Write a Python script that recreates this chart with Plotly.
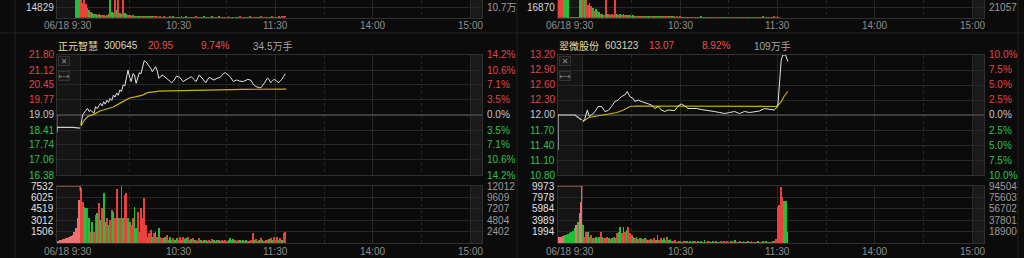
import plotly.graph_objects as go

W, H = 1024, 258
BG = "#0b0b0b"
GRID = "#272727"
FRAME = "#303030"
RED = "#e8413e"
GREEN = "#22c03a"
PRE_RED = "#ef7070"
LINE_W = "#e4e4e4"
AVG = "#c8b400"
FONT = "Liberation Sans, Arial, Noto Sans CJK SC, sans-serif"

# ---------------- shared time axis ----------------
TIME_TICKS = [0, 60, 120, 180, 240]
HALF_TICKS = [30, 90, 150, 210]
TIME_LABELS = ["06/18 9:30", "10:30", "11:30", "14:00", "15:00"]

# ---------------- 正元智慧 300645 ----------------
L_HEADER = ["正元智慧", "300645", "20.95", "9.74%", "34.5万手"]
L_PRICE_TICKS = [21.80, 21.12, 20.45, 19.77, 19.09, 18.41, 17.74, 17.06, 16.38]
L_PCT_TICKS = ["14.2%", "10.6%", "7.1%", "3.5%", "0.0%", "3.5%", "7.1%", "10.6%", "14.2%"]
L_PRE_CLOSE = 19.09
L_VOL_TICKS = [7532, 6025, 4519, 3012, 1506]
L_AMT_TICKS = ["12012", "9609", "7207", "4804", "2402"]
L_TOP_GRID = 14829
L_TOP_RIGHT = "10.7万"

L_PRE_MIN = [-15, -15, -14.6, -5, -0.5]
L_PRE_PRICE = [19.09, 18.28, 18.53, 18.53, 18.50]

L_MIN = [0, 1, 3, 4, 5, 6, 8, 9, 10, 12, 13, 14, 15, 16, 17, 18, 19, 20, 21, 22, 23, 24, 25, 26, 27,
         28, 29, 30, 31, 32, 33, 34, 35, 36, 37, 38, 39, 40, 41, 42, 43, 44, 45, 46, 47, 48, 49, 50,
         51, 52, 54, 56, 57, 59, 60, 61, 63, 65, 68, 70, 71, 73, 75, 77, 79, 81, 82, 84, 86, 88, 89,
         90, 92, 94, 96, 98, 100, 103, 105, 106, 108, 110, 111, 113, 115, 116, 117, 118, 119, 120,
         121, 122, 123, 124, 125, 126]
L_PRICE = [18.64, 19.09, 19.30, 19.39, 19.25, 19.30, 19.17, 19.47, 19.38, 19.62, 19.50, 19.69, 19.58,
           19.76, 19.66, 19.84, 19.75, 19.99, 19.90, 20.08, 19.98, 20.22, 20.15, 20.45, 20.40, 20.85,
           21.12, 20.80, 20.60, 20.95, 20.90, 20.52, 20.75, 21.00, 20.95, 21.30, 21.54, 21.50, 21.40,
           21.35, 21.20, 21.05, 21.15, 21.27, 21.10, 20.75, 20.80, 20.90, 20.85, 20.80, 20.67, 20.55,
           20.62, 20.85, 20.80, 20.79, 20.60, 20.70, 20.82, 20.68, 20.60, 20.90, 20.70, 20.55, 20.79,
           20.72, 20.67, 20.75, 20.80, 20.97, 21.00, 20.95, 20.82, 20.60, 20.67, 20.62, 20.60, 20.70,
           20.65, 20.50, 20.37, 20.33, 20.32, 20.52, 20.75, 20.70, 20.55, 20.62, 20.70, 20.66, 20.60,
           20.55, 20.64, 20.70, 20.82, 20.95]
L_AVG_MIN = [0, 2, 4.5, 8, 11.7, 16, 19.9, 25, 30, 34, 38, 41, 44, 48.6, 55, 61, 75, 87, 100, 126.6]
L_AVG = [18.59, 18.85, 19.04, 19.12, 19.27, 19.36, 19.45, 19.66, 19.86, 19.92, 19.99, 20.10, 20.13,
         20.17, 20.18, 20.19, 20.21, 20.25, 20.25, 20.26]

L_AUC_MIN = [-15, -0.5, -0.5]
L_AUC_VOL = [7532, 7532, 6875]
L_PRE_VOL = [315, 350, 402, 460, 533, 600, 665, 750, 840, 960, 1102, 1540, 1977, 3290, 5696]
L_VOL = [7312, 5475, 4818, 4600, 4600, 3290, 1540, 2852, 1540, 3727,
         3946, 5256, 3071, 4600, 6570, 2852, 3290, 2415, 3071, 4381,
         4162, 3290, 7137, 3290, 3377, 7531, 3290, 6351, 6570, 3290,
         2852, 2415, 3290, 4818, 1977, 4162, 1540, 4600, 3290, 6001,
         2415, 884, 1322, 1759, 884, 1322, 1540, 884, 1977, 884,
         665, 665, 884, 1102, 446, 884, 446, 665, 402, 665,
         490, 884, 402, 884, 577, 665, 884, 446, 577, 665,
         402, 490, 358, 665, 402, 358, 490, 402, 315, 446,
         358, 577, 402, 315, 446, 490, 358, 446, 358, 402,
         315, 446, 665, 490, 577, 402, 358, 446, 402, 315,
         402, 358, 446, 315, 358, 402, 1322, 402, 577, 358,
         490, 665, 402, 358, 446, 402, 577, 665, 402, 884,
         446, 796, 402, 665, 446, 1322, 1453]
L_DIR = [1, 1, -1, -1, 1, -1, 1, -1, 1, 1,
         -1, 1, -1, 1, -1, -1, 1, -1, 1, 1,
         -1, 1, 1, -1, 1, 1, -1, 1, 1, -1,
         -1, 1, 1, -1, -1, 1, 1, 1, 1, 1,
         1, -1, 1, 1, -1, 1, -1, 1, -1, 1,
         1, -1, -1, 1, -1, -1, 1, 1, -1, -1,
         1, 1, -1, 1, -1, -1, 1, 1, -1, 1,
         -1, 1, -1, 1, -1, 1, -1, 1, -1, 1,
         -1, 1, -1, 1, -1, 1, -1, 1, -1, 1,
         1, -1, -1, 1, -1, 1, -1, 1, -1, 1,
         -1, 1, -1, 1, -1, 1, 1, -1, 1, 1,
         -1, 1, -1, 1, -1, 1, -1, 1, -1, 1,
         1, 1, -1, 1, -1, 1, 1]

L_TOP_START = -3
L_TOP_VOL = [40000, 40000, 40000, 40000, 22300, 26000, 20000, 14350, 11640, 9000,
             6378, 5500, 5000, 4500, 5200, 3667, 4200, 3667, 3000, 3667,
             5000, 40000, 9000, 7000, 40000, 11640, 40000, 6378, 5000, 40000,
             6378, 5000, 4000, 3667, 3000, 3667, 2800, 3200, 2500, 2900,
             2400, 2700, 2200, 2600, 2000, 2300, 1800, 2100, 1500, 1300,
             1200, 900, 1100, 800, 1300, 700, 1000, 900, 1200, 800,
             1100, 700, 900, 1000, 800, 1200, 700, 900, 1100, 800,
             1000, 700, 900, 800, 1200, 700, 1000, 900, 800, 1100,
             700, 900, 1000, 800, 1300, 700, 900, 800, 1100, 900,
             700, 1000, 800, 900, 1200, 700, 900, 800, 1000, 700,
             900, 1100, 800, 700, 1000, 900, 800, 1200, 700, 900,
             800, 1000, 700, 900, 1100, 800, 900, 700, 1000, 800,
             900, 1200, 700, 1000, 800, 1300, 900, 1100, 1400, 1200]
L_TOP_DIR = [-1, -1, -1, 1, 1, 1, 1, 1, -1, 1,
             -1, -1, 1, -1, 1, -1, 1, -1, 1, -1,
             1, -1, -1, -1, 1, -1, 1, -1, -1, 1,
             -1, -1, 1, -1, 1, -1, 1, -1, 1, -1,
             1, -1, 1, -1, 1, -1, 1, -1, 1, -1,
             1, -1, 1, -1, 1, -1, 1, -1, 1, -1,
             -1, 1, -1, 1, -1, 1, -1, 1, -1, 1,
             1, -1, 1, -1, 1, -1, 1, -1, 1, -1,
             -1, 1, -1, 1, -1, 1, -1, 1, -1, 1,
             1, -1, 1, -1, 1, -1, 1, -1, 1, -1,
             -1, 1, -1, 1, -1, 1, -1, 1, -1, 1,
             1, -1, 1, -1, 1, -1, 1, -1, 1, -1,
             -1, 1, -1, 1, -1, 1, -1, 1, 1, 1]

# ---------------- 翠微股份 603123 ----------------
R_HEADER = ["翠微股份", "603123", "13.07", "8.92%", "109万手"]
R_PRICE_TICKS = [13.20, 12.90, 12.60, 12.30, 12.00, 11.70, 11.40, 11.10, 10.80]
R_PCT_TICKS = ["10.0%", "7.5%", "5.0%", "2.5%", "0.0%", "2.5%", "5.0%", "7.5%", "10.0%"]
R_PRE_CLOSE = 12.00
R_VOL_TICKS = [9973, 7978, 5984, 3989, 1994]
R_AMT_TICKS = ["94504", "75603", "56702", "37801", "18900"]
R_TOP_GRID = 16870
R_TOP_RIGHT = "21057"

R_PRE_MIN = [-15.4, -15.4, -15, -5, -0.8]
R_PRE_PRICE = [11.30, 12.00, 12.00, 12.00, 11.90]

R_MIN = [0, 1.2, 2.7, 3.9, 5.3, 7.4, 9.4, 11.5, 13.5, 15.6, 17.6, 19.7, 21.7, 23.8, 25.8, 27.3,
         28.9, 31, 32, 34, 36, 39.2, 42.3, 44.3, 46.4, 48.4, 50.5, 52.5, 54.6, 56.6, 58.7, 60.7,
         62.8, 64.8, 66.9, 70, 73, 76, 78, 81, 84.3, 87.4, 90.5, 93.5, 96.6, 99.7, 102.8, 105.8,
         108.9, 112, 115, 118, 120.2, 121.2, 122.3, 123.3, 125, 126.4]
R_PRICE = [11.87, 11.93, 12.10, 11.97, 12.00, 12.07, 12.17, 12.17, 12.07, 12.09, 12.17, 12.27,
           12.30, 12.37, 12.40, 12.47, 12.37, 12.33, 12.27, 12.30, 12.27, 12.23, 12.20, 12.13,
           12.17, 12.10, 12.07, 12.10, 12.10, 12.09, 12.18, 12.22, 12.18, 12.13, 12.13, 12.13,
           12.11, 12.10, 12.08, 12.07, 12.05, 12.03, 12.05, 12.07, 12.03, 12.07, 12.05, 12.07,
           12.08, 12.13, 12.11, 12.10, 12.17, 12.70, 13.10, 13.20, 13.20, 13.07]
R_AVG_MIN = [0, 3.5, 8.7, 16.9, 21, 25, 29, 33, 77, 78, 119.5, 122, 124, 126.4]
R_AVG = [11.87, 11.95, 11.98, 12.02, 12.05, 12.10, 12.17, 12.18, 12.18, 12.17, 12.17, 12.25,
         12.37, 12.47]

R_AUC_MIN = [-15.4, -0.8, -0.8]
R_AUC_VOL = [9973, 9973, 7243]
R_PRE_VOL = [1164, 1164, 1164, 1337, 1453, 1453, 1569, 1743, 1916, 2148, 2611, 3190, 3769, 5216, 7243]
R_PRE_DIR = [1, 1, 1, 1, -1, -1, -1, -1, -1, -1, -1, 1, -1, 1, 1]
R_VOL = [3190, 1164, 2032, 2032, 1164, 1453, 874, 874, 1164, 874,
         1164, 2032, 1164, 874, 874, 1164, 874, 758, 874, 1164,
         874, 1743, 2032, 2900, 1743, 2900, 2032, 2322, 2900, 1743,
         1453, 1164, 874, 1164, 758, 874, 874, 758, 874, 758,
         584, 642, 758, 526, 1006, 584, 1453, 526, 874, 526,
         1006, 526, 1164, 526, 758, 410, 350, 520, 300, 460,
         380, 290, 440, 350, 500, 310, 420, 280, 360, 450,
         300, 380, 260, 420, 330, 600, 290, 350, 410, 270,
         360, 300, 440, 280, 330, 390, 260, 350, 300, 420,
         280, 340, 380, 260, 560, 310, 290, 350, 270, 400,
         300, 260, 340, 290, 380, 250, 320, 280, 360, 300,
         270, 340, 300, 390, 280, 330, 260, 360, 420, 700,
         6375, 6665, 9855, 8117, 7364, 7364, 2040]
R_DIR = [-1, 1, 1, -1, 1, 1, -1, 1, -1, 1,
         -1, 1, -1, 1, -1, 1, -1, 1, -1, 1,
         -1, 1, -1, -1, 1, -1, 1, -1, 1, 1,
         1, -1, 1, -1, 1, 1, -1, 1, -1, 1,
         -1, 1, -1, 1, 1, -1, -1, 1, 1, -1,
         -1, 1, 1, -1, -1, 1, -1, 1, -1, 1,
         -1, 1, -1, 1, -1, 1, -1, 1, -1, 1,
         1, -1, 1, -1, 1, -1, 1, -1, 1, -1,
         -1, 1, -1, 1, -1, 1, -1, 1, -1, 1,
         1, -1, 1, -1, -1, 1, -1, 1, -1, 1,
         -1, 1, -1, 1, -1, 1, -1, 1, -1, 1,
         1, -1, 1, -1, 1, -1, 1, -1, 1, 1,
         1, 1, 1, 1, -1, -1, -1]

R_TOP_START = -15
R_TOP_VOL = [40000, 40000, 40000, 40000, 40000, 40000, 40000, 300, 300, 300,
             300, 300, 300, 40000, 40000, 40000, 40000, 40000, 22000, 24000,
             20000, 16000, 11000, 14000, 12000, 10000, 7000, 6000, 5000, 40000,
             6000, 5500, 4500, 6000, 5000, 40000, 6500, 5000, 6000, 4500,
             5500, 4000, 5000, 4000, 4500, 3500, 4000, 3000, 2500, 3200,
             2200, 2800, 2000, 2600, 2100, 2400, 1900, 2200, 1800, 2000,
             1700, 2100, 1600, 1900, 1500, 1800, 1400, 1700, 1300, 1600,
             1200, 1500, 1100, 1400, 1000, 1300, 900, 700, 1000, 600,
             800, 1100, 700, 900, 600, 1000, 800, 700, 1200, 600,
             900, 700, 1000, 800, 600, 900, 1100, 700, 800, 600,
             1000, 700, 900, 800, 600, 1100, 700, 900, 800, 1000,
             600, 800, 700, 900, 1000, 700, 800, 600, 900, 700,
             800, 1000, 700, 900, 600, 800, 1200, 900, 1000, 800,
             1100, 900, 1000, 1200, 800, 1300, 1000]
R_TOP_DIR = [1, 1, 1, -1, -1, -1, -1, 1, -1, 1,
             -1, 1, -1, -1, -1, 1, -1, 1, 1, -1,
             1, -1, 1, -1, 1, -1, 1, -1, 1, 1,
             -1, 1, -1, 1, -1, 1, -1, 1, -1, 1,
             -1, 1, -1, 1, -1, 1, -1, 1, -1, 1,
             -1, 1, -1, 1, -1, 1, -1, 1, -1, 1,
             -1, 1, -1, 1, -1, 1, -1, 1, -1, 1,
             -1, 1, -1, 1, -1, 1, -1, 1, -1, 1,
             -1, 1, -1, 1, -1, 1, -1, 1, -1, 1,
             -1, 1, -1, 1, -1, 1, -1, 1, -1, 1,
             -1, 1, -1, 1, -1, 1, -1, 1, -1, 1,
             -1, 1, -1, 1, -1, 1, -1, 1, -1, 1,
             -1, 1, -1, 1, -1, 1, -1, 1, -1, 1,
             1, -1, 1, 1, -1, 1, 1]

# ---------------- layout geometry (pixels) ----------------
PRICE_Y = (55, 175)
VOL_Y = (186, 243.4)
TOP_Y = (0, 17.7)
HEADER_Y = 46
TIME_Y_BOTTOM = 251
TIME_Y_TOP = 26

fig = go.Figure()
layout = {}
annotations = []
shapes = []


def py(p):
    return 1 - p / H


def pxx(p):
    return p / W


def ann(text, x, y, xanchor="left", color="#cccccc", xref="paper", yref="paper", size=10, xshift=0):
    annotations.append(dict(text=text, x=x, y=y, xref=xref, yref=yref, xanchor=xanchor,
                            yanchor="middle", showarrow=False, xshift=xshift, borderpad=0,
                            font=dict(family=FONT, size=size, color=color)))


def colors(dirs, up=RED, down=GREEN):
    return [up if d > 0 else down for d in dirs]


def axis_names(n):
    return ("x" if n == 1 else f"x{n}", "y" if n == 1 else f"y{n}",
            "xaxis" if n == 1 else f"xaxis{n}", "yaxis" if n == 1 else f"yaxis{n}")


def make_axes(n, bx, ypix, xr, yr, yticks, top=False):
    xid, yid, xk, yk = axis_names(n)
    layout[xk] = dict(domain=[pxx(bx[0]), pxx(bx[1])], range=xr, anchor=yid,
                      tickvals=TIME_TICKS, showticklabels=False, ticks="",
                      showgrid=True, gridcolor=GRID, gridwidth=1, zeroline=False,
                      showline=True, mirror=not top, linecolor=FRAME, linewidth=1,
                      minor=dict(tickvals=HALF_TICKS, showgrid=True, gridcolor=GRID,
                                 griddash="dot", gridwidth=1, ticks=""),
                      fixedrange=True)
    layout[yk] = dict(domain=[py(ypix[1]), py(ypix[0])], range=yr, anchor=xid,
                      tickvals=yticks, showticklabels=False, ticks="",
                      showgrid=True, gridcolor=GRID, gridwidth=1, zeroline=False,
                      showline=True, mirror=True, linecolor=FRAME, linewidth=1,
                      fixedrange=True)
    # pre-market and post-market shaded zones
    for x0, x1, c in ((xr[0], 0, "#151515"), (240, xr[1], "#1a1a1a")):
        shapes.append(dict(type="rect", xref=xid, yref=f"{yid} domain", x0=x0, x1=x1, y0=0, y1=1,
                           fillcolor=c, line=dict(width=0), layer="below"))
    return xid, yid


def panel(nbase, bx, xr, header, price_ticks, pct_ticks, pre_close, vol_ticks, amt_ticks,
          top_grid, top_right, pre_min, pre_price, mins, price, avg_min, avg,
          auc_min, auc_vol, pre_vol, pre_dir, vol, vdir, top_start, top_vol, top_dir):
    pr = [price_ticks[-1], price_ticks[0]]
    xp, yp = make_axes(nbase, bx, PRICE_Y, xr, pr, price_ticks)
    xv, yv = make_axes(nbase + 1, bx, VOL_Y, xr, [0, vol_ticks[0]], vol_ticks)
    top_range = [0, top_grid * (TOP_Y[1] - TOP_Y[0]) / (TOP_Y[1] - 7.7)]
    xt, yt = make_axes(nbase + 2, bx, TOP_Y, xr, top_range, [top_grid], top=True)

    # previous-close reference line (drawn first, under the price lines)
    fig.add_trace(go.Scatter(x=xr, y=[pre_close, pre_close], xaxis=xp, yaxis=yp, mode="lines",
                             line=dict(color="#4a4a4a", width=1.6), hoverinfo="skip"))

    # price lines
    fig.add_trace(go.Scatter(x=pre_min, y=pre_price, xaxis=xp, yaxis=yp, mode="lines",
                             line=dict(color="#cfcfcf", width=1.2), hoverinfo="skip"))
    fig.add_trace(go.Scatter(x=avg_min, y=avg, xaxis=xp, yaxis=yp, mode="lines",
                             line=dict(color=AVG, width=1.2), hoverinfo="skip"))
    fig.add_trace(go.Scatter(x=mins, y=price, xaxis=xp, yaxis=yp, mode="lines",
                             line=dict(color=LINE_W, width=1), hoverinfo="skip"))

    # volume bars
    pre_x = list(range(-len(pre_vol), 0))
    fig.add_trace(go.Bar(x=pre_x, y=pre_vol, xaxis=xv, yaxis=yv, width=0.85,
                         marker=dict(color=colors(pre_dir, PRE_RED, GREEN), line=dict(width=0)),
                         hoverinfo="skip"))
    fig.add_trace(go.Bar(x=list(range(len(vol))), y=vol, xaxis=xv, yaxis=yv, width=0.55,
                         marker=dict(color=colors(vdir), line=dict(width=0)), hoverinfo="skip"))
    fig.add_trace(go.Scatter(x=auc_min, y=auc_vol, xaxis=xv, yaxis=yv, mode="lines",
                             line=dict(color="#e86a6a", width=1.2), hoverinfo="skip"))

    # previous panel's volume strip at the top
    fig.add_trace(go.Bar(x=[top_start + i for i in range(len(top_vol))], y=top_vol, xaxis=xt,
                         yaxis=yt, width=0.55,
                         marker=dict(color=colors(top_dir), line=dict(width=0)), hoverinfo="skip"))

    # ---- text ----
    hx = [bx[0], bx[0] + 46, bx[0] + 90, bx[0] + 143, bx[0] + 195]
    hc = ["#e6dc9c", "#d6d6bc", "#e8504a", "#e8504a", "#a4a4a4"]
    for t, x, c in zip(header, hx, hc):
        ann(t, pxx(x), py(HEADER_Y), "left", c)

    for v, pt in zip(price_ticks, pct_ticks):
        c = "#e04646" if v > pre_close + 1e-9 else ("#c4c8cc" if abs(v - pre_close) < 1e-9 else "#2ec24a")
        ann(f"{v:.2f}", pxx(bx[0] - 2), v, "right", c, yref=yp)
        ann(pt, pxx(bx[1] + 4), v, "left", c, yref=yp)
    for v, a in zip(vol_ticks, amt_ticks):
        ann(str(v), pxx(bx[0] - 2), v, "right", "#e2e2e2", yref=yv)
        ann(a, pxx(bx[1] + 4), v, "left", "#9c9c9c", yref=yv)
    ann(str(top_grid), pxx(bx[0] - 2), top_grid, "right", "#d8d8d8", yref=yt)
    ann(top_right, pxx(bx[1] + 4), top_grid, "left", "#9c9c9c", yref=yt)

    for ty in (TIME_Y_BOTTOM, TIME_Y_TOP):
        for t, lab in zip(TIME_TICKS, TIME_LABELS):
            ann(lab, t, py(ty), "center", "#8e8e8e", xref=xp, xshift=-13 if t == 0 else 0)

    # small tool icons
    for iy, sym in ((61.5, "✕"), (75.5, "⟷")):
        annotations.append(dict(text=sym, x=pxx(bx[0] + 7), y=py(iy), xref="paper", yref="paper",
                                xanchor="center", yanchor="middle", showarrow=False,
                                width=10, height=8, bgcolor="#1b1b1b", bordercolor="#333333",
                                borderwidth=1, borderpad=0,
                                font=dict(family="DejaVu Sans", size=8, color="#8a8a8a")))


panel(1, (57, 482), [-14.8, 247.4], L_HEADER, L_PRICE_TICKS, L_PCT_TICKS, L_PRE_CLOSE,
      L_VOL_TICKS, L_AMT_TICKS, L_TOP_GRID, L_TOP_RIGHT, L_PRE_MIN, L_PRE_PRICE, L_MIN, L_PRICE,
      L_AVG_MIN, L_AVG, L_AUC_MIN, L_AUC_VOL, L_PRE_VOL, [1] * len(L_PRE_VOL), L_VOL, L_DIR,
      L_TOP_START, L_TOP_VOL, L_TOP_DIR)
panel(4, (558, 984), [-15.4, 247.4], R_HEADER, R_PRICE_TICKS, R_PCT_TICKS, R_PRE_CLOSE,
      R_VOL_TICKS, R_AMT_TICKS, R_TOP_GRID, R_TOP_RIGHT, R_PRE_MIN, R_PRE_PRICE, R_MIN, R_PRICE,
      R_AVG_MIN, R_AVG, R_AUC_MIN, R_AUC_VOL, R_PRE_VOL, R_PRE_DIR, R_VOL, R_DIR,
      R_TOP_START, R_TOP_VOL, R_TOP_DIR)

# separators
for x in (15, 517, 1018):
    shapes.append(dict(type="line", xref="paper", yref="paper", x0=pxx(x), x1=pxx(x), y0=0, y1=1,
                       line=dict(color="#222222", width=1)))
shapes.append(dict(type="line", xref="paper", yref="paper", x0=0, x1=1, y0=py(33), y1=py(33),
                   line=dict(color="#222222", width=1)))

fig.update_layout(width=W, height=H, margin=dict(l=0, r=0, t=0, b=0), paper_bgcolor=BG,
                  plot_bgcolor=BG, showlegend=False, barmode="overlay", bargap=0,
                  annotations=annotations, shapes=shapes, **layout)
fig.write_html("out.html", config={"displayModeBar": False})
